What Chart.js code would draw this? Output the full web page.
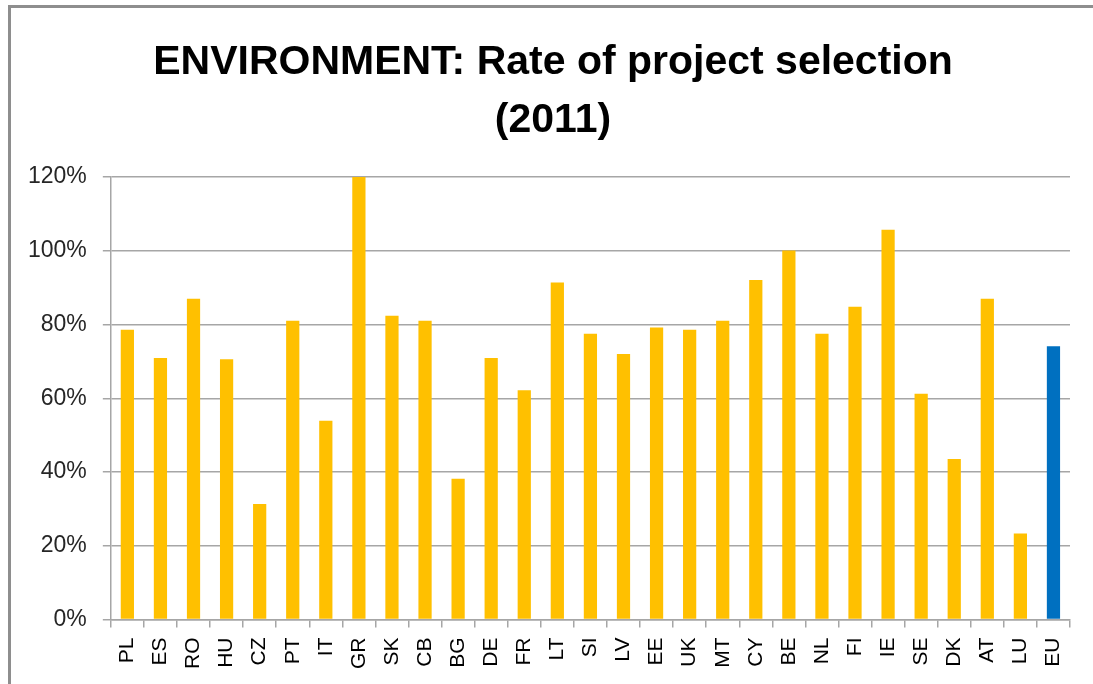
<!DOCTYPE html>
<html>
<head>
<meta charset="utf-8">
<title>ENVIRONMENT: Rate of project selection (2011)</title>
<script src="https://cdn.jsdelivr.net/npm/chart.js@4.4.1/dist/chart.umd.min.js"></script>
<style>
    html, body { margin: 0; padding: 0; background: #ffffff; overflow: hidden; }
    #frame {
        position: absolute; left: 8px; top: 5px; width: 1200px; height: 800px;
        border-left: 3px solid #8e8e8e; border-top: 3px solid #8e8e8e;
    }
    #wrap { position: absolute; left: 0; top: 0; width: 1093px; height: 684px; }
    #title {
        position: absolute; left: 53px; top: 31px; width: 1000px;
        text-align: center; color: #000;
        font-family: 'Liberation Sans', Arial, sans-serif; font-weight: bold;
        font-size: 41px; line-height: 58px;
    }
</style>
</head>
<body>
<div id="frame"></div>
<div id="wrap"><canvas id="chart" width="1093" height="684"></canvas></div>
<div id="title"></div>
<script>
// Chart data
const countries = ['PL', 'ES', 'RO', 'HU', 'CZ', 'PT', 'IT', 'GR', 'SK', 'CB', 'BG', 'DE', 'FR', 'LT', 'SI',
    'LV', 'EE', 'UK', 'MT', 'CY', 'BE', 'NL', 'FI', 'IE', 'SE', 'DK', 'AT', 'LU', 'EU'];
const selectionRate = [78.6, 70.9, 87.0, 70.6, 31.3, 81.0, 53.9, 120.0, 82.4, 81.0, 38.2, 70.9, 62.2, 91.4, 77.5,
    72.0, 79.2, 78.6, 81.0, 92.1, 100.1, 77.5, 84.8, 105.7, 61.2, 43.5, 87.0, 23.3, 74.1];
const yTicks = [0, 20, 40, 60, 80, 100, 120];
const titleLines = ['ENVIRONMENT: Rate of project selection', '(2011)'];

const GOLD = '#FFC000';
const BLUE = '#0070C0';
const GRID = '#a6a6a6';

// title sits a bit right of the plot centre, so it's plain text over the canvas
const titleEl = document.getElementById('title');
titleLines.forEach(line => {
    const div = document.createElement('div');
    div.textContent = line;
    titleEl.appendChild(div);
});

// EU average gets its own colour
const barColors = countries.map(c => c === 'EU' ? BLUE : GOLD);

const ctx = document.getElementById('chart');

new Chart(ctx, {
    type: 'bar',
    data: {
        labels: countries,
        datasets: [{
            label: 'Rate of project selection',
            data: selectionRate,
            backgroundColor: barColors,
            borderWidth: 0,
            categoryPercentage: 1.0,
            barPercentage: 0.4
        }]
    },
    options: {
        responsive: false,
        animation: false,
        devicePixelRatio: 1,
        layout: {
            padding: { left: 12, right: 23, top: 177, bottom: 5 }
        },
        plugins: {
            legend: { display: false },
            tooltip: { enabled: false },
            title: { display: false }
        },
        scales: {
            x: {
                offset: true,
                grid: {
                    display: true,
                    offset: true,
                    drawOnChartArea: false,
                    drawTicks: true,
                    tickLength: 8,
                    color: GRID,
                    lineWidth: 1.5
                },
                border: { display: true, color: GRID, width: 1.5 },
                ticks: {
                    autoSkip: false,
                    maxRotation: 90,
                    minRotation: 90,
                    padding: 10,
                    color: '#000000',
                    font: { family: "'Liberation Sans', Arial, sans-serif", size: 21 }
                }
            },
            y: {
                min: 0,
                max: 120,
                afterBuildTicks: axis => {
                    axis.ticks = yTicks.map(v => ({ value: v }));
                },
                grid: {
                    color: GRID,
                    lineWidth: 1.5,
                    tickLength: 8
                },
                border: { display: true, color: GRID, width: 1.5 },
                ticks: {
                    padding: 16,
                    color: '#262626',
                    font: { family: "'Liberation Sans', Arial, sans-serif", size: 23 },
                    callback: v => v + '%'
                }
            }
        }
    }
});
</script>
</body>
</html>
